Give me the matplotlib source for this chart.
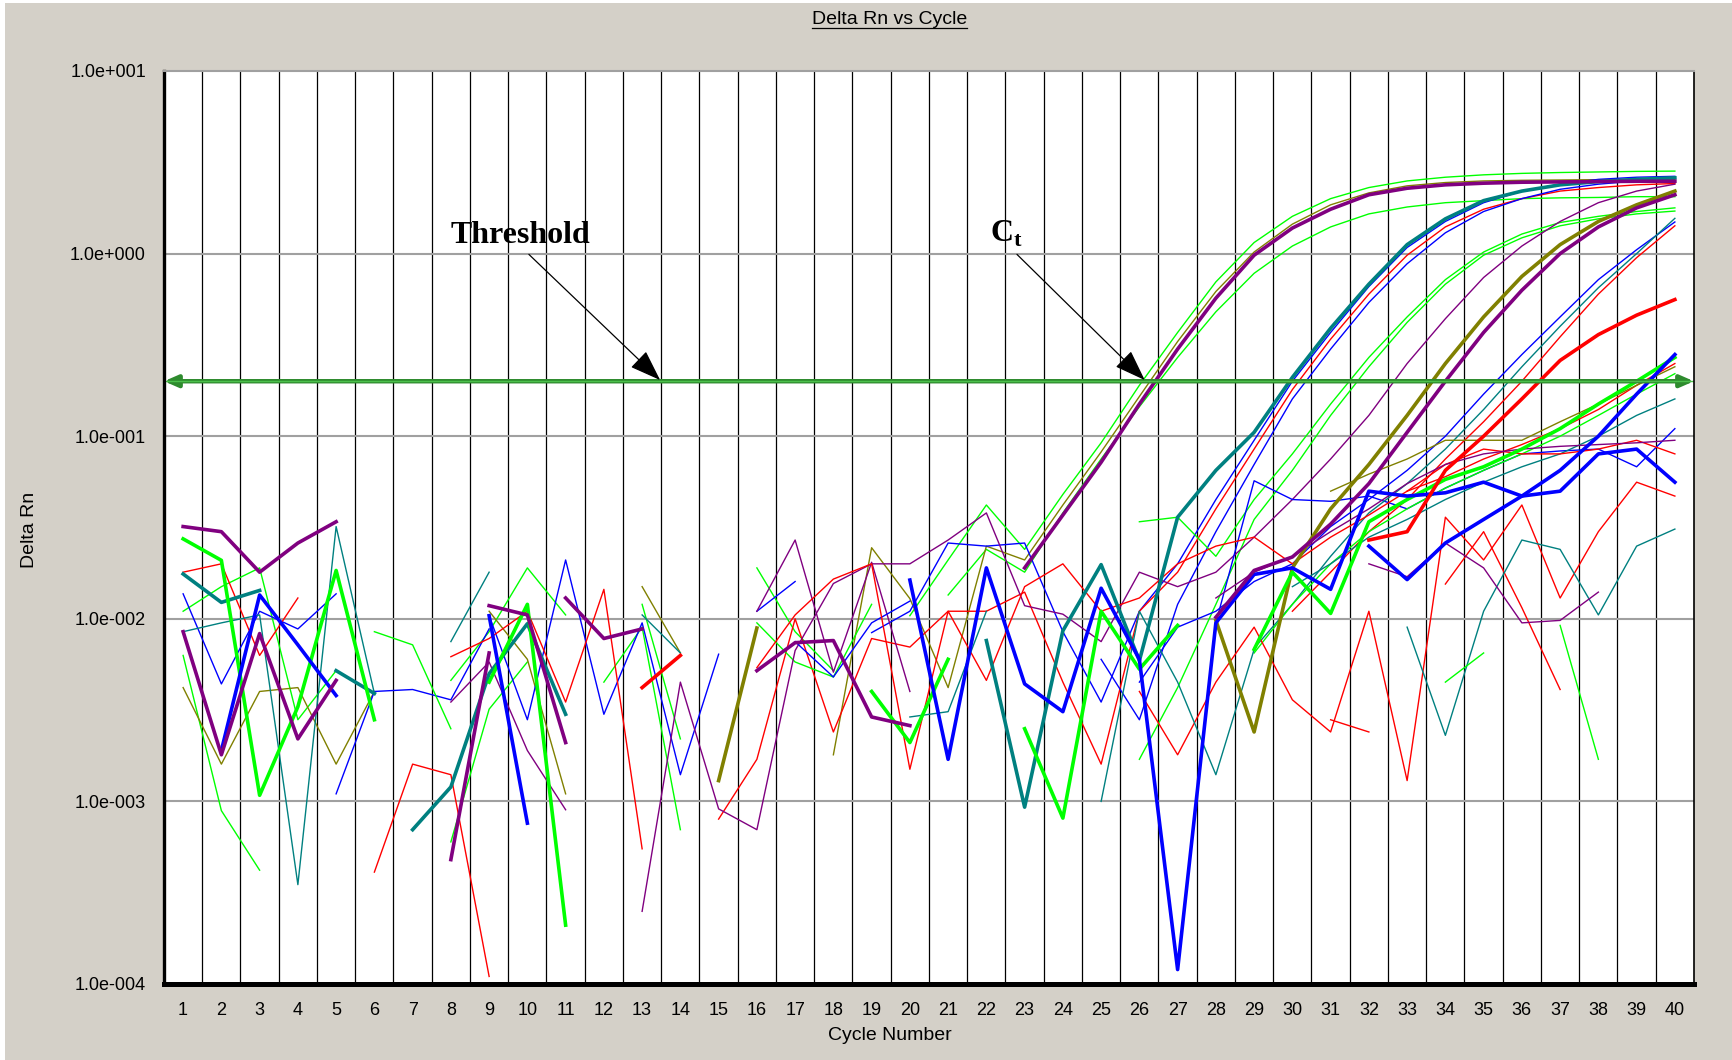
import numpy as np
import matplotlib
matplotlib.use("Agg")
import matplotlib.pyplot as plt
from matplotlib.patches import Rectangle
from matplotlib.lines import Line2D

N = None
cycles = list(range(1, 41))
threshold = 0.2
y_ticks = [1e-4, 1e-3, 1e-2, 1e-1, 1e0, 1e1]
y_tick_labels = ["1.0e-004", "1.0e-003", "1.0e-002", "1.0e-001", "1.0e+000", "1.0e+001"]
x_tick_labels = [str(c) for c in cycles]

# ---------------- thick traces ----------------
purple_thick_a = [
    0.032, 0.030, 0.018, 0.026, 0.034, N, N, N, 0.0118, 0.0105,
    0.0021, N, N, N, N, 0.0052, 0.0074, 0.0076, 0.0029, 0.0026,
    N, N, 0.019, 0.037, 0.072, 0.15, 0.30, 0.57, 0.98, 1.38,
    1.75, 2.10, 2.28, 2.38, 2.43, 2.46, 2.47, 2.48, 2.49, 2.49]
purple_thick_d = [
    0.0085, 0.0018, 0.0083, 0.0022, 0.0046, N, N, 0.00048, 0.0065, N,
    0.013, 0.0078, 0.0088, N, N, N, N, N, N, N,
    N, N, N, N, N, N, N, 0.0102, 0.0184, 0.0218,
    0.033, 0.055, 0.105, 0.20, 0.37, 0.63, 1.00, 1.40, 1.78, 2.10]
olive_thick = [
    N, N, N, N, N, N, N, N, N, N,
    N, N, N, N, 0.0013, 0.0089, N, N, N, N,
    N, N, N, N, N, N, N, 0.0098, 0.0024, 0.019,
    0.040, 0.070, 0.13, 0.25, 0.45, 0.75, 1.12, 1.50, 1.85, 2.20]
teal_thick = [
    0.0176, 0.0123, 0.0143, N, 0.0052, 0.0039, N, N, N, N,
    N, N, N, N, N, N, N, N, N, N,
    N, 0.0076, 0.00093, 0.0086, 0.0198, 0.0059, 0.036, 0.065, 0.105, 0.21,
    0.39, 0.68, 1.12, 1.55, 1.95, 2.20, 2.38, 2.48, 2.55, 2.60]
teal_thick_2 = [
    N, N, N, N, N, N, 0.0007, 0.0012, 0.0050, 0.0094,
    0.0030, N, N, N, N, N, N, N, N, N,
    N, N, N, N, N, N, N, N, N, N,
    N, N, N, N, N, N, N, N, N, N]
green_thick = [
    0.0274, 0.0209, 0.00108, 0.0033, 0.0184, 0.0028, N, N, 0.0045, 0.012,
    0.00021, N, N, N, N, N, N, N, 0.0040, 0.0021,
    0.0060, N, 0.0025, 0.00081, 0.011, 0.0053, 0.0092, N, 0.0068, 0.018,
    0.0107, 0.034, 0.045, 0.058, 0.068, 0.085, 0.11, 0.15, 0.20, 0.27]
blue_thick_g = [
    N, 0.0019, 0.0135, 0.0072, 0.0038, N, N, N, 0.0104, 0.00076,
    N, N, N, N, N, N, N, N, N, 0.0163,
    0.0017, 0.019, 0.0044, 0.0031, 0.0147, 0.0060, 0.00012, 0.0095, 0.0175, 0.019,
    0.0145, 0.050, 0.047, 0.049, 0.056, 0.047, 0.050, 0.080, 0.085, 0.056]
blue_thick_f = [
    N, N, N, N, N, N, N, N, N, N,
    N, N, N, N, N, N, N, N, N, N,
    N, N, N, N, N, N, N, N, N, N,
    N, 0.025, 0.0164, 0.026, 0.035, 0.047, 0.065, 0.10, 0.17, 0.28]
red_thick = [
    N, N, N, N, N, N, N, N, N, N,
    N, N, 0.0042, 0.0063, N, N, N, N, N, N,
    N, N, N, N, N, N, N, N, N, N,
    N, 0.027, 0.030, 0.065, 0.10, 0.16, 0.26, 0.36, 0.46, 0.56]

# ---------------- thin traces ----------------
green_a_top = [
    0.011, 0.015, 0.019, 0.0028, 0.0052, N, N, 0.0046, 0.0085, 0.019,
    0.0105, N, N, N, N, 0.019, 0.0085, 0.0052, N, 0.0104,
    0.021, 0.042, 0.024, 0.048, 0.092, 0.19, 0.37, 0.70, 1.15, 1.60,
    2.00, 2.30, 2.50, 2.62, 2.70, 2.75, 2.78, 2.80, 2.82, 2.83]
green_a_low = [
    0.0063, 0.00089, 0.00042, N, N, N, N, 0.0006, 0.0032, 0.0058,
    N, 0.0045, 0.009, 0.0007, N, N, N, N, N, N,
    0.0135, 0.024, 0.018, 0.038, 0.075, 0.145, 0.27, 0.48, 0.78, 1.10,
    1.40, 1.65, 1.80, 1.90, 1.95, 2.00, 2.02, 2.03, 2.05, 2.05]
olive_thin_a = [
    0.0042, 0.0016, 0.0040, 0.0042, 0.0016, 0.0040, N, N, 0.011, 0.006,
    0.0011, N, 0.015, 0.0065, N, N, N, 0.0018, 0.0245, 0.0129,
    0.0042, 0.025, 0.021, 0.042, 0.082, 0.165, 0.33, 0.62, 1.02, 1.45,
    1.85, 2.15, 2.35, 2.45, 2.50, 2.52, 2.53, 2.54, 2.55, 2.55]
blue_thin_b = [
    0.0137, 0.0044, 0.011, 0.0088, 0.0137, N, N, N, 0.0104, 0.0028,
    0.021, 0.0030, 0.0095, 0.0014, 0.0064, N, N, N, 0.0084, 0.011,
    0.026, 0.025, 0.026, 0.0085, 0.0035, 0.011, 0.020, 0.045, 0.095, 0.20,
    0.37, 0.66, 1.08, 1.50, 1.90, 2.20, 2.40, 2.55, 2.62, 2.65]
red_thin_b = [
    0.018, 0.020, 0.0063, 0.013, N, 0.00041, 0.0016, 0.0014, 0.00011, N,
    N, N, N, N, 0.0008, 0.0017, 0.010, 0.0024, 0.0078, 0.0070,
    0.011, 0.011, 0.014, 0.0045, 0.0016, 0.011, 0.018, 0.040, 0.085, 0.18,
    0.34, 0.60, 0.98, 1.40, 1.75, 2.00, 2.20, 2.30, 2.38, 2.42]
blue_thin_b2 = [
    N, N, N, N, 0.0011, 0.0040, 0.0041, 0.0036, 0.0088, N,
    N, N, N, N, N, 0.011, 0.016, N, N, N,
    N, N, N, N, 0.0060, 0.0028, 0.012, 0.030, 0.070, 0.16,
    0.30, 0.54, 0.88, 1.30, 1.70, 2.00, 2.25, 2.40, 2.50, 2.60]
green_c1 = [
    N, N, N, N, N, 0.0085, 0.0072, 0.0025, N, N,
    N, N, N, N, N, N, N, N, N, N,
    N, N, N, N, N, 0.034, 0.036, 0.022, 0.045, 0.080,
    0.15, 0.27, 0.45, 0.72, 1.02, 1.28, 1.48, 1.60, 1.70, 1.78]
green_c2 = [
    N, N, N, N, N, N, N, N, N, N,
    N, N, 0.012, 0.0022, N, 0.0095, 0.0058, 0.0048, 0.012, N,
    N, N, N, N, N, 0.0017, 0.0042, 0.012, 0.035, 0.065,
    0.13, 0.24, 0.42, 0.68, 0.98, 1.22, 1.42, 1.55, 1.65, 1.71]
purple_thin_d = [
    N, N, N, N, N, N, N, 0.0035, 0.0058, 0.0019,
    0.0009, N, 0.00025, 0.0045, 0.00091, 0.0007, 0.0067, 0.0156, 0.020, 0.020,
    0.027, 0.038, 0.0118, 0.0106, 0.0075, 0.018, 0.015, 0.018, 0.028, 0.045,
    0.075, 0.13, 0.25, 0.44, 0.74, 1.10, 1.50, 1.90, 2.20, 2.40]
purple_thin_2 = [
    N, N, N, N, N, N, N, N, N, N,
    N, N, N, N, N, 0.011, 0.027, 0.0051, 0.0204, 0.0040,
    N, N, N, N, N, N, N, N, N, N,
    N, N, N, N, N, N, N, N, N, N]
blue_thin_e = [
    N, N, N, N, N, N, N, N, N, N,
    N, N, N, N, N, N, 0.0075, 0.0048, 0.0095, 0.0125,
    N, N, N, N, N, 0.0045, 0.009, 0.011, 0.016, 0.020,
    0.032, 0.045, 0.065, 0.10, 0.17, 0.28, 0.45, 0.72, 1.05, 1.49]
blue_thin_n = [
    N, N, N, N, N, N, N, N, N, N,
    N, N, N, N, N, N, N, N, N, N,
    N, N, N, N, N, N, N, 0.0095, 0.057, 0.045,
    0.044, 0.047, 0.040, 0.052, 0.065, 0.080, 0.083, 0.085, 0.068, 0.11]
teal_thin_e = [
    N, N, N, N, N, N, N, N, N, N,
    N, N, N, N, N, N, N, N, N, N,
    N, N, N, N, N, N, N, N, 0.0069, 0.012,
    0.022, 0.038, 0.055, 0.085, 0.14, 0.24, 0.40, 0.65, 1.00, 1.56]
red_thin_e = [
    N, N, N, N, N, N, N, N, N, N,
    N, N, N, N, N, N, N, N, N, N,
    N, N, N, N, N, N, N, N, N, 0.011,
    0.018, 0.030, 0.045, 0.075, 0.12, 0.20, 0.35, 0.60, 0.95, 1.42]
red_thin_f = [
    N, N, N, N, N, N, N, 0.0062, 0.0078, 0.011,
    0.0035, 0.0145, 0.00055, N, N, 0.0054, 0.0105, 0.0165, 0.020, 0.0015,
    0.011, 0.0046, 0.015, 0.020, 0.011, 0.013, 0.020, 0.025, 0.028, 0.020,
    0.028, 0.037, 0.050, 0.060, 0.075, 0.090, 0.11, 0.14, 0.19, 0.25]
green_thin_f = [
    N, N, N, N, N, N, N, N, N, N,
    N, N, N, N, N, N, N, N, N, N,
    N, N, N, N, N, N, N, N, 0.0065, 0.012,
    0.020, 0.030, 0.040, 0.052, 0.065, 0.080, 0.10, 0.13, 0.17, 0.22]
teal_thin_f = [
    N, N, N, N, N, N, N, N, N, N,
    N, N, N, N, N, N, N, N, N, N,
    N, N, N, N, N, N, N, N, N, 0.015,
    0.020, 0.028, 0.035, 0.045, 0.056, 0.068, 0.080, 0.10, 0.13, 0.16]
olive_thin_f = [
    N, N, N, N, N, N, N, N, N, N,
    N, N, N, N, N, N, N, N, N, N,
    N, N, N, N, N, N, N, N, N, N,
    0.050, 0.062, 0.075, 0.095, 0.095, 0.095, 0.12, 0.15, 0.19, 0.24]
red_thin_l1 = [
    N, N, N, N, N, N, N, N, N, N,
    N, N, N, N, N, N, N, N, N, N,
    N, N, N, N, N, 0.0040, 0.0018, 0.0045, 0.0090, 0.0036,
    0.0024, 0.011, 0.0013, 0.036, 0.021, 0.042, 0.013, 0.030, 0.056, 0.047]
red_thin_l2 = [
    N, N, N, N, N, N, N, N, N, N,
    N, N, N, N, N, N, N, N, N, N,
    N, N, N, N, N, N, N, N, N, N,
    0.0028, 0.0024, N, 0.0155, 0.030, 0.0115, 0.0041, N, N, N]
red_thin_l3 = [
    N, N, N, N, N, N, N, N, N, N,
    N, N, N, N, N, N, N, N, N, N,
    N, N, N, N, N, N, N, N, N, N,
    N, N, 0.050, 0.070, 0.085, 0.080, 0.080, 0.085, 0.095, 0.080]
teal_thin_l = [
    N, N, N, N, N, N, N, N, N, N,
    N, N, N, N, N, N, N, N, N, N,
    N, N, N, N, N, N, N, N, N, N,
    N, N, 0.009, 0.0023, 0.011, 0.027, 0.024, 0.0105, 0.025, 0.031]
purple_thin_l = [
    N, N, N, N, N, N, N, N, N, N,
    N, N, N, N, N, N, N, N, N, N,
    N, N, N, N, N, N, N, N, N, N,
    N, 0.020, 0.017, 0.026, 0.019, 0.0095, 0.0098, 0.014, N, N]
purple_thin_l2 = [
    N, N, N, N, N, N, N, N, N, N,
    N, N, N, N, N, N, N, N, N, N,
    N, N, N, N, N, N, N, 0.013, 0.018, 0.022,
    0.030, 0.040, 0.055, 0.070, 0.080, 0.085, 0.088, 0.090, 0.092, 0.095]
green_thin_l = [
    N, N, N, N, N, N, N, N, N, N,
    N, N, N, N, N, N, N, N, N, N,
    N, N, N, N, N, N, N, N, N, N,
    N, N, N, 0.0045, 0.0065, N, 0.0092, 0.0017, N, N]
teal_thin_1 = [
    0.0085, 0.0095, 0.0105, 0.00035, 0.032, 0.0039, N, 0.0075, 0.018, N,
    N, N, 0.0105, 0.0065, N, N, N, N, N, 0.0029,
    0.0031, 0.011, N, N, 0.0010, 0.011, 0.0045, 0.0014, 0.0068, N,
    N, N, N, N, N, N, N, N, N, N]

GREEN, BLUE, RED = "#00FF00", "#0000FF", "#FF0000"
PURPLE, OLIVE, TEAL = "#800080", "#808000", "#008080"
THIN, THICK = 1.0, 2.6

thin_series = [
    (green_a_top, GREEN), (green_a_low, GREEN), (olive_thin_a, OLIVE),
    (blue_thin_b, BLUE), (red_thin_b, RED), (blue_thin_b2, BLUE),
    (green_c1, GREEN), (green_c2, GREEN), (purple_thin_d, PURPLE),
    (purple_thin_2, PURPLE), (blue_thin_e, BLUE), (blue_thin_n, BLUE),
    (teal_thin_e, TEAL), (red_thin_e, RED), (red_thin_f, RED),
    (green_thin_f, GREEN), (teal_thin_f, TEAL), (olive_thin_f, OLIVE),
    (red_thin_l1, RED), (red_thin_l2, RED), (red_thin_l3, RED),
    (teal_thin_l, TEAL), (purple_thin_l, PURPLE), (purple_thin_l2, PURPLE),
    (green_thin_l, GREEN), (teal_thin_1, TEAL),
]
thick_series = [
    (teal_thick, TEAL), (teal_thick_2, TEAL), (olive_thick, OLIVE),
    (green_thick, GREEN), (blue_thick_g, BLUE), (blue_thick_f, BLUE),
    (red_thick, RED), (purple_thick_d, PURPLE), (purple_thick_a, PURPLE),
]

W, H = 1733, 1060
fig = plt.figure(figsize=(W / 100, H / 100), dpi=100)
fig.patch.set_facecolor("white")
fig.patches.append(Rectangle((5 / W, 0), 1 - 5 / W, 1 - 3 / H, transform=fig.transFigure,
                             facecolor="#D4D0C8", edgecolor="none", zorder=-10))

ax = fig.add_axes([164 / W, 1 - 984 / H, (1694 - 164) / W, (984 - 71) / H])
ax.set_facecolor("white")
ax.set_yscale("log")
ax.set_xlim(0.5, 40.5)
ax.set_ylim(1e-4, 1e1)

for xv in np.arange(1.5, 40.0, 1.0):
    ax.axvline(xv, color="black", lw=0.9, zorder=1)
for yv in y_ticks[1:-1]:
    ax.axhline(yv, color="#A0A0A0", lw=1.5, zorder=1)


def arr(s):
    return np.array([np.nan if v is None else v for v in s], dtype=float)


for s, col in thin_series:
    ax.plot(cycles, arr(s), color=col, lw=THIN, zorder=2)
for s, col in thick_series:
    ax.plot(cycles, arr(s), color=col, lw=THICK, zorder=3)

# threshold line with arrowheads at both ends
ax.annotate("", xy=(1.0, threshold), xytext=(0.0, threshold),
            xycoords=("axes fraction", "data"), textcoords=("axes fraction", "data"),
            arrowprops=dict(arrowstyle="<|-|>,head_length=0.8,head_width=0.35",
                            color="#2E8B2E", lw=3.2, shrinkA=0, shrinkB=0,
                            mutation_scale=10), zorder=5)
ax.axhline(threshold, color="#4CC04C", lw=1.0, zorder=6)

# annotations
arrow_kw = dict(arrowstyle="-|>,head_length=0.7,head_width=0.25", color="black",
                lw=0.9, shrinkA=0, shrinkB=0, mutation_scale=28)
ax.annotate("", xy=(13.47, 0.203), xytext=(10.04, 0.99), arrowprops=arrow_kw, zorder=7)
ax.annotate("", xy=(26.14, 0.203), xytext=(22.8, 0.99), arrowprops=arrow_kw, zorder=7)
ax.text(8.0, 1.14, "Threshold", ha="left", va="baseline", fontsize=23,
        fontweight="bold", family="Liberation Serif", zorder=8)
ax.text(22.09, 1.17, r"C$_\mathregular{t}$", ha="left", va="baseline", fontsize=23,
        fontweight="bold", family="Liberation Serif", zorder=8)

# axes styling
for side in ["left", "bottom", "right", "top"]:
    ax.spines[side].set_zorder(9)
ax.spines["left"].set_linewidth(2.4)
ax.spines["bottom"].set_linewidth(3.6)
ax.spines["right"].set_linewidth(1.2)
ax.spines["top"].set_color("#A0A0A0")
ax.spines["top"].set_linewidth(1.5)

ax.set_yticks(y_ticks)
ax.set_yticklabels(y_tick_labels)
ax.yaxis.set_minor_locator(matplotlib.ticker.NullLocator())
ax.set_xticks(cycles)
ax.set_xticklabels(x_tick_labels)
ax.tick_params(axis="both", length=0, labelsize=13)
ax.tick_params(axis="x", pad=13)
ax.tick_params(axis="y", pad=13)
for lab in ax.get_xticklabels() + ax.get_yticklabels():
    lab.set_family("Liberation Sans")

fig.text(889.5 / W, 1 - 1036 / H, "Cycle Number", ha="center", va="center",
         fontsize=14, family="Liberation Sans")
fig.text(30 / W, 0.5, "Delta Rn", ha="center", va="center", rotation=90,
         fontsize=14, family="Liberation Sans")
title = fig.text(889.5 / W, 1 - 20 / H, "Delta Rn vs Cycle", ha="center", va="center",
                 fontsize=14, family="Liberation Sans")

fig.canvas.draw()
bb = title.get_window_extent()
uy = (bb.y0 + 1) / H
fig.add_artist(Line2D([bb.x0 / W, bb.x1 / W], [uy, uy], color="black", lw=0.9,
                      transform=fig.transFigure))

fig.savefig("out.png", dpi=100, facecolor=fig.get_facecolor())
